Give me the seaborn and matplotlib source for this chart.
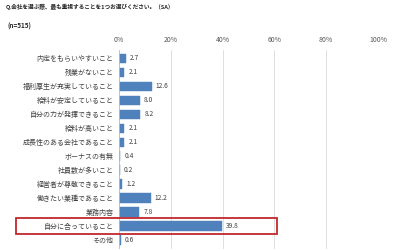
import matplotlib
matplotlib.use("Agg")
import matplotlib.pyplot as plt
import seaborn as sns
import pandas as pd
from matplotlib.patches import Rectangle

categories = ["内定をもらいやすいこと", "残業がないこと", "福利厚生が充実していること", "給料が安定していること",
              "自分の力が発揮できること", "給料が高いこと", "成長性のある会社であること", "ボーナスの有無",
              "社員数が多いこと", "経営者が尊敬できること", "働きたい業種であること", "業務内容",
              "自分に合っていること", "その他"]
values = [2.7, 2.1, 12.6, 8.0, 8.2, 2.1, 2.1, 0.4, 0.2, 1.2, 12.2, 7.8, 39.8, 0.6]
tick_values = [0, 20, 40, 60, 80, 100]
tick_labels = ["0%", "20%", "40%", "60%", "80%", "100%"]
title = "Q.会社を選ぶ際、最も重視することを1つお選びください。（SA）"
subtitle = "(n=515)"
highlight = "自分に合っていること"

sns.set_theme(style="white")
plt.rcParams['font.family'] = ['Noto Sans CJK JP', 'DejaVu Sans']

df = pd.DataFrame({"cat": categories, "val": values})

fig = plt.figure(figsize=(4, 2.5), dpi=100)
ax = fig.add_axes([0.2975, 0.006, 0.6475, 0.794])
sns.barplot(data=df, y="cat", x="val", orient="h", color="#4F81BD", saturation=1,
            width=0.68, ax=ax, edgecolor="#4F81BD", linewidth=0.3)

ax.set_xlim(0, 100)
ax.set_ylim(len(categories) - 0.4, -0.6)
ax.set_xticks(tick_values)
ax.set_xticklabels(tick_labels)
ax.xaxis.tick_top()
ax.tick_params(axis='x', length=0, labelsize=5, colors="#595959", pad=4)
ax.tick_params(axis='y', length=0, labelsize=5, colors="#404040", pad=4)
ax.set_xlabel("")
ax.set_ylabel("")
ax.grid(axis='x', color="#D9D9D9", linewidth=0.6)
ax.set_axisbelow(True)
for s in ["top", "right", "bottom"]:
    ax.spines[s].set_visible(False)
ax.spines["left"].set_color("#BFBFBF")
ax.spines["left"].set_linewidth(0.6)

for i, v in enumerate(values):
    ax.text(v + 1.6, i, f"{v:.1f}", va="center", ha="left", fontsize=4.8, color="#404040")

fig.text(0.015, 0.972, title, fontsize=4.1, fontweight="bold", color="#262626", ha="left", va="center")
fig.text(0.02, 0.895, subtitle, fontsize=4.6, fontweight="bold", color="#262626", ha="left", va="center")

idx = categories.index(highlight)
y0 = ax.transData.transform((0, idx + 0.57))[1]
y1 = ax.transData.transform((0, idx - 0.57))[1]
x0 = 16
x1 = ax.transData.transform((61, 0))[0]
rect = Rectangle((x0, y0), x1 - x0, y1 - y0, transform=None, fill=False,
                 edgecolor="#C0282D", linewidth=1.3, zorder=10)
fig.patches.append(rect)

fig.savefig("out.png", dpi=100)
